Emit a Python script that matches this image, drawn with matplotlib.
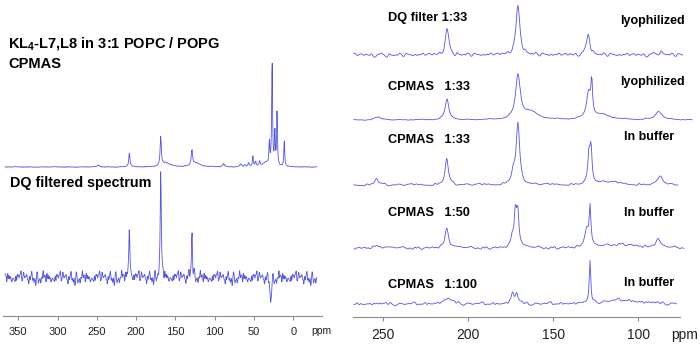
import numpy as np
import matplotlib
matplotlib.use('Agg')
import matplotlib.pyplot as plt

plt.rcParams['font.family'] = ['Liberation Sans', 'DejaVu Sans']
plt.rcParams['mathtext.fontset'] = 'custom'
plt.rcParams['mathtext.rm'] = 'Liberation Sans:bold'

# ---------------- data ----------------
# hand-read noise texture, values in [-1, 1]
NOISE = [0.3, -0.5, 0.8, -0.2, -0.9, 0.4, 0.1, -0.6, 0.7, 0.2, -0.3, 0.9, -0.7, 0.0, 0.5, -0.4, -0.8, 0.6, 0.2, -0.1,
         0.4, -0.6, 0.9, -0.3, 0.1, -0.9, 0.5, 0.7, -0.2, -0.5, 0.3, 0.8, -0.7, 0.0, -0.4, 0.6, -0.1, 0.2, -0.8, 0.5,
         -0.3, 0.7, 0.1, -0.6, 0.9, -0.2, -0.5, 0.4, 0.0, -0.9, 0.6, 0.3, -0.4, 0.8, -0.1, -0.7, 0.2, 0.5, -0.3, 0.9,
         -0.6, 0.1, 0.4, -0.8, 0.7, -0.2, 0.0, -0.5, 0.6, 0.3, -0.9, 0.2, 0.8, -0.4, -0.1, 0.5, -0.7, 0.9, 0.1, -0.3,
         0.6, -0.8, 0.4, 0.0, -0.2, 0.7, -0.6, 0.3, -0.5, 0.8, 0.2, -0.9, 0.5, -0.1, -0.4, 0.9, -0.3, 0.1, -0.7, 0.6]

# Left panel: CPMAS (top) and DQ filtered (bottom)
CP_PPM = [248, 208.6, 168.7, 162, 129, 124, 89, 67, 62, 57, 51.5, 48, 43, 35, 30.5, 27, 23.5, 20.7, 11.5]
CP_HGT = [2, 14, 29, 4, 15, 4, 3, 3, 2, 4, 11, 5, 5, 4, 24, 112, 36, 54, 28]
CP_HW = [1.5, 0.9, 0.9, 6, 1.0, 6, 1.5, 1, 1, 0.8, 0.6, 0.8, 0.8, 5, 0.6, 0.6, 0.6, 0.6, 0.6]

DQ_PPM = [208.6, 168.7, 129, 28.8]
DQ_HGT = [53, 103, 48, -24]
DQ_HW = [0.8, 0.8, 0.8, 0.8]

# Right panel, five spectra (top to bottom)
R1_PPM = [212.5, 170.8, 129.4, 87]
R1_HGT = [26, 48, 21, 3]
R1_HW = [1.2, 1.4, 1.2, 2]

R2_PPM = [253, 212.5, 170.8, 163.5, 129.2, 127.4, 121.5, 88]
R2_HGT = [3, 21, 44, 8, 26, 33, 5, 8]
R2_HW = [2, 1.3, 1.6, 5, 1.5, 0.5, 6, 2.5]

R3_PPM = [254, 212.7, 173.5, 170.8, 129.0, 127.8, 118, 87]
R3_HGT = [7, 27, 12, 60, 28, 34, 3, 10]
R3_HW = [1.2, 1.1, 1.2, 1.2, 0.8, 0.7, 8, 1.5]

R4_PPM = [254, 212.7, 174.2, 172.3, 170.9, 130.4, 128.4, 110, 88.4]
R4_HGT = [3, 20, 10, 34, 34, 18, 38, 4, 8]
R4_HW = [1.2, 1.2, 0.8, 0.8, 0.8, 1.2, 0.6, 10, 1.5]

R5_PPM = [212, 174, 171.5, 128.4, 110]
R5_HGT = [5, 10, 9, 41, 4]
R5_HW = [3, 1.0, 1.0, 0.5, 12]

LEFT_TICKS = [350, 300, 250, 200, 150, 100, 50, 0]
RIGHT_TICKS = [250, 200, 150, 100]

LEFT_TEXTS = ["KL$\\mathregular{_4}$-L7,L8 in 3:1 POPC / POPG", "CPMAS", "DQ filtered spectrum"]
RIGHT_LABELS = ["DQ filter 1:33", "CPMAS   1:33", "CPMAS   1:33", "CPMAS   1:50", "CPMAS   1:100"]
RIGHT_STATES = ["lyophilized", "lyophilized", "In buffer", "In buffer", "In buffer"]

# ---------------- helpers ----------------
LINE = '#5656dc'


def spectrum(x, ppm, hgt, hw, base, amp, step, offset, kernel):
    y = np.full_like(x, base, dtype=float)
    for p, h, w in zip(ppm, hgt, hw):
        y += h / (1.0 + ((x - p) / w) ** 2)
    nz = np.asarray(NOISE)
    idx = (np.arange(len(x)) * step + offset) % len(nz)
    n = nz[idx]
    k = np.asarray(kernel, float)
    k /= k.sum()
    n = np.convolve(n, k, mode='same')
    return y + amp * n


fig = plt.figure(figsize=(7.0, 3.46), dpi=100)
W, H = 700.0, 346.0

# ---------------- left panel ----------------
axL = fig.add_axes([3.3 / W, (H - 316) / H, (321.7 - 3.3) / W, 316 / H])
axL.set_xlim(369, -36.1)
axL.set_ylim(0, 316)
xL = np.arange(366.8, -30.0, -0.5)
yCP = spectrum(xL, CP_PPM, CP_HGT, CP_HW, 149, 0.6, 7, 3, [1, 2, 1])
yDQ = spectrum(xL, DQ_PPM, DQ_HGT, DQ_HW, 38, 9.0, 13, 11, [1, 2, 1])
axL.plot(xL, yCP, color=LINE, lw=0.6)
axL.plot(xL, yDQ, color=LINE, lw=0.6)

# ---------------- right panel ----------------
axR = fig.add_axes([353.3 / W, (H - 317) / H, (680 - 353.3) / W, 317 / H])
axR.set_xlim(267.6, 75.5)
axR.set_ylim(0, 317)
specs = [
    (R1_PPM, R1_HGT, R1_HW, 262, 3.5, 17, 5, (267.2, 73.8)),
    (R2_PPM, R2_HGT, R2_HW, 197, 1.0, 23, 41, (267.2, 68.0)),
    (R3_PPM, R3_HGT, R3_HW, 132, 2.2, 29, 17, (267.2, 76.6)),
    (R4_PPM, R4_HGT, R4_HW, 69, 2.2, 31, 63, (267.2, 73.0)),
    (R5_PPM, R5_HGT, R5_HW, 13, 3.0, 37, 29, (267.2, 77.2)),
]
for ppm, hgt, hw, base, amp, step, off, (x0, x1) in specs:
    xr = np.arange(x0, x1, -0.4)
    yr = spectrum(xr, ppm, hgt, hw, base, amp, step, off, [1, 2, 3, 2, 1])
    axR.plot(xr, yr, color=LINE, lw=0.6, clip_on=False)

for ax, ticks, fs in ((axL, LEFT_TICKS, 8), (axR, RIGHT_TICKS, 10)):
    for s in ('top', 'left', 'right'):
        ax.spines[s].set_visible(False)
    ax.spines['bottom'].set_color('#8c8c8c')
    ax.spines['bottom'].set_linewidth(0.8)
    ax.set_yticks([])
    ax.set_xticks(ticks)
    ax.set_xticklabels([str(t) for t in ticks])
    ax.tick_params(axis='x', direction='out', length=3, width=0.8, color='#8c8c8c',
                   labelsize=fs, pad=5, labelcolor='#222222')
    ax.patch.set_alpha(0)

fig.text(311.5 / W, 1 - 331.5 / H, "ppm", fontsize=7.5, color='#222222', va='center', ha='left')
fig.text(671.5 / W, 1 - 335.5 / H, "ppm", fontsize=10, color='#222222', va='center', ha='left')

# left texts
fig.text(8 / W, 1 - 43 / H, LEFT_TEXTS[0], fontsize=10.5, fontweight='bold', va='center', ha='left')
fig.text(8 / W, 1 - 63.5 / H, LEFT_TEXTS[1], fontsize=10.5, fontweight='bold', va='center', ha='left')
fig.text(9.5 / W, 1 - 183 / H, LEFT_TEXTS[2], fontsize=10.3, fontweight='bold', va='center', ha='left')

# right texts
lab_y = [18, 87, 140, 213, 285]
st_y = [21, 82, 137, 213, 283]
for lab, st, ly, sy in zip(RIGHT_LABELS, RIGHT_STATES, lab_y, st_y):
    fig.text(388 / W, 1 - ly / H, lab, fontsize=9.2, fontweight='bold', va='center', ha='left')
    fig.text(685 / W if st == 'lyophilized' else 674 / W, 1 - sy / H, st, fontsize=9.0,
             fontweight='bold', va='center', ha='right')

fig.savefig('out.png', dpi=100)
